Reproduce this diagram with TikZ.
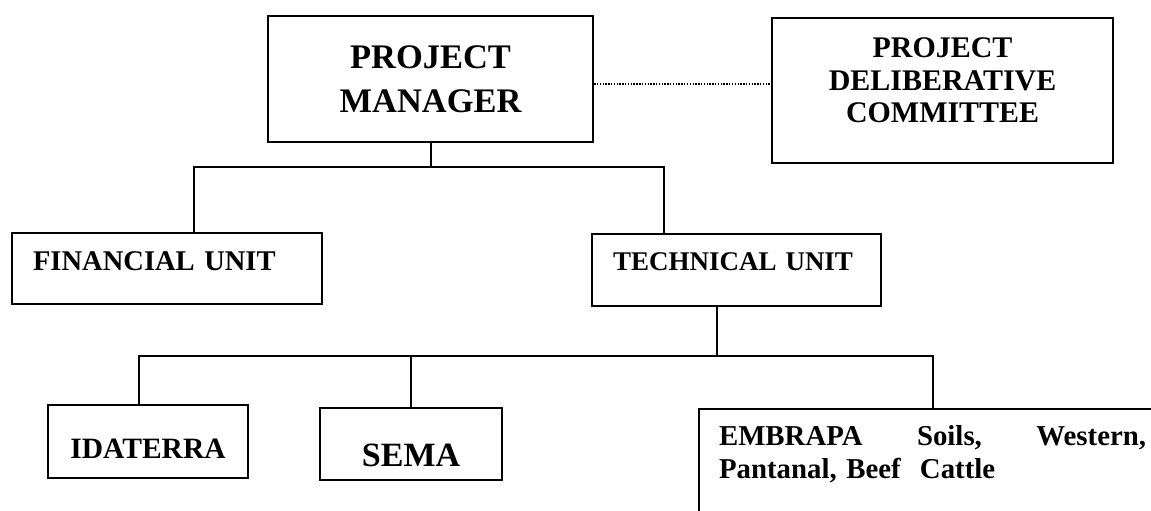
\documentclass[tikz,border=0pt]{standalone}
\usepackage{fontspec}
\setmainfont{Liberation Serif}
\usepackage{tikz}
\usetikzlibrary{calc}
\tikzstyle{unit} = [rectangle, draw=black, line width=1.5pt, inner ysep=0pt, anchor=north west]
\tikzstyle{link} = [line width=1.5pt]
\tikzstyle{dots} = [line width=1pt, densely dotted]

\begin{document}
\begin{tikzpicture}
  \path[use as bounding box, clip] (0,0) rectangle (28.775,-12.75);

  % Top row
  \node[unit, minimum width=8.125cm, inner xsep=0pt, align=center, text height=2.41cm, text depth=0.74cm,
        font=\fontsize{24.5}{31.3}\selectfont\bfseries] (pm) at (6.675,-0.375) {PROJECT\\MANAGER};
  \node[unit, minimum width=8.525cm, inner xsep=0pt, align=center, text height=2.6cm, text depth=1.025cm,
        font=\fontsize{21.3}{22.8}\selectfont\bfseries] (com) at (19.275,-0.425) {PROJECT\\DELIBERATIVE\\COMMITTEE};

  % Units
  \node[unit, inner xsep=0.525cm, text width=6.7cm, align=left, text height=0.925cm, text depth=0.85cm,
        font=\fontsize{20.3}{24}\selectfont\bfseries] (fin) at (0.275,-5.8) {FINANCIAL~UNIT};
  \node[unit, inner xsep=0.525cm, text width=6.175cm, align=left, text height=0.9cm, text depth=0.9cm,
        font=\fontsize{19.2}{23}\selectfont\bfseries] (tec) at (14.775,-5.825) {TECHNICAL~UNIT};

  % Partners
  \node[unit, minimum width=5cm, inner xsep=0pt, text height=1.325cm, text depth=0.5cm,
        font=\fontsize{21}{25}\selectfont\bfseries] (ida) at (1.175,-10.1) {IDATERRA};
  \node[unit, minimum width=4.55cm, inner xsep=0pt, text height=1.45cm, text depth=0.35cm,
        font=\fontsize{24.2}{29}\selectfont\bfseries] (sema) at (7.975,-10.175) {SEMA};
  \node[unit, inner xsep=0.5cm, text width=10.675cm, align=left, text height=0.9cm, text depth=3.0cm,
        font=\fontsize{20.5}{23.5}\selectfont\bfseries] (emb) at (17.45,-10.2)
        {EMBRAPA\hfill Soils,\hfill Western,\\Pantanal, Beef~~Cattle};

  % Connectors
  \draw[dots] ([yshift=-0.125cm]pm.east) -- ([yshift=-0.125cm]pm.east -| com.west);
  \draw[link] (pm.south) -- ++(0,-0.6) coordinate (bus1);
  \draw[link] ([xshift=0.675cm]fin.north) |- (bus1) -| ([xshift=-1.8125cm]tec.north);
  \draw[link] ([xshift=-0.4875cm]tec.south) -- ++(0,-1.225) coordinate (bus2);
  \draw[link] ([xshift=-0.225cm]ida.north) |- (bus2) -| ([xshift=5.875cm]emb.north west);
  \draw[link] (sema.north) -- (sema.north |- bus2);
\end{tikzpicture}
\end{document}
